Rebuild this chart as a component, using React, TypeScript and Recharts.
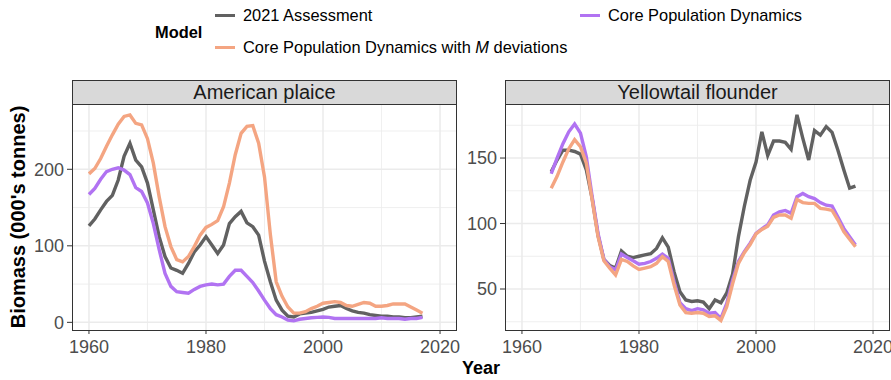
import React from "react";
import { LineChart, Line, XAxis, YAxis, ReferenceLine } from "recharts";

const FONT = '"Liberation Sans", Arial, Helvetica, sans-serif';
const COLORS = { assess: "#616161", core: "#B173F2", coreM: "#F4A582" };

// American plaice, 1960-2017
const plaiceYears = [
  1960, 1961, 1962, 1963, 1964, 1965, 1966, 1967, 1968, 1969,
  1970, 1971, 1972, 1973, 1974, 1975, 1976, 1977, 1978, 1979,
  1980, 1981, 1982, 1983, 1984, 1985, 1986, 1987, 1988, 1989,
  1990, 1991, 1992, 1993, 1994, 1995, 1996, 1997, 1998, 1999,
  2000, 2001, 2002, 2003, 2004, 2005, 2006, 2007, 2008, 2009,
  2010, 2011, 2012, 2013, 2014, 2015, 2016, 2017,
];
const plaiceAssess = [
  126, 135, 147, 158, 166, 186, 217, 234, 212, 203,
  182, 147, 112, 86, 71, 68, 64, 77, 92, 101,
  112, 101, 90, 101, 129, 138, 145, 130, 125, 114,
  80, 53, 29, 16, 8, 7, 11, 12, 13, 15,
  17, 20, 21, 22, 18, 15, 13, 12, 10, 9,
  8, 8, 7, 7, 6, 6, 7, 8,
];
const plaiceCore = [
  167, 175, 187, 197, 200, 202, 199, 193, 176, 171,
  156, 129, 95, 64, 47, 40, 39, 38, 43, 47,
  49, 50, 49, 50, 60, 68, 68, 60, 52, 41,
  29, 18, 10, 7, 3, 2, 4, 5, 6, 6.5,
  7, 6.5, 5, 5, 5, 5, 5, 5, 5, 5,
  6, 5, 5, 5, 4, 5, 5, 6.5,
];
const plaiceCoreM = [
  194, 201, 214, 230, 245, 259, 269, 271, 260, 258,
  240, 208, 164, 125, 99, 82, 79, 86, 99, 114,
  124, 128, 133, 151, 182, 219, 247, 256, 257, 234,
  190, 115, 53, 34, 20, 12, 12, 14, 18, 21,
  25, 26, 27, 26, 22, 21, 23.5, 26, 25, 21,
  21, 22, 24, 24, 24, 20, 16, 12,
];

// Yellowtail flounder, 1965-2017
const yellowYears = [
  1965, 1966, 1967, 1968, 1969,
  1970, 1971, 1972, 1973, 1974, 1975, 1976, 1977, 1978, 1979,
  1980, 1981, 1982, 1983, 1984, 1985, 1986, 1987, 1988, 1989,
  1990, 1991, 1992, 1993, 1994, 1995, 1996, 1997, 1998, 1999,
  2000, 2001, 2002, 2003, 2004, 2005, 2006, 2007, 2008, 2009,
  2010, 2011, 2012, 2013, 2014, 2015, 2016, 2017,
];
const yellowAssess = [
  139.6, 148.5, 156, 156, 155,
  153, 141, 119, 91, 72.6, 68, 66, 79, 75, 74,
  75, 76, 77, 81, 89, 82, 63, 48, 41.6, 40.5,
  41, 40, 35, 41.6, 39.5, 47, 61.5, 90, 113, 133,
  147, 170, 152, 163, 163, 162, 156.6, 183, 165, 148.5,
  171, 167.5, 174, 169.6, 156, 141, 127, 128.6,
];
const yellowCore = [
  138, 150, 161, 170, 176,
  169, 151, 120.5, 92.5, 72.6, 67, 64.5, 76.7, 74, 71.6,
  69, 69.6, 71, 73.4, 76.7, 73.4, 55.6, 39.6, 35, 33.5,
  35, 34, 31.5, 32, 27.6, 39, 57, 71, 78.5, 85,
  92.5, 96, 99, 106.5, 109, 110, 107.8, 120.5, 123, 120.5,
  119, 116, 114, 113.4, 105, 96.3, 90, 83.6,
];
const yellowCoreM = [
  127, 136, 147, 157, 164,
  158.6, 146, 118, 90, 71.6, 66, 60.7, 72.6, 71, 67.6,
  65, 66, 67, 69.6, 74.7, 71, 53, 37.8, 32, 31.5,
  32, 31.5, 29, 29.5, 26, 36.5, 54, 69.6, 77.7, 84,
  92, 95.5, 98, 104.7, 106.5, 106.5, 104, 118.4, 116, 115.4,
  115.4, 111.6, 111, 110, 102.7, 93.8, 88, 82.3,
];

const xTicks = [1960, 1980, 2000, 2020];
const xMinor = [1970, 1990, 2010];

const toRows = (years: number[], a: number[], b: number[], c: number[]) =>
  years.map((year, i) => ({ year, assess: a[i], core: b[i], coreM: c[i] }));

const tickStyle = { fontSize: 18, fill: "#4d4d4d", fontFamily: FONT };

type PanelProps = {
  rows: { year: number; assess: number; core: number; coreM: number }[];
  yDomain: [number, number];
  yTicks: number[];
  yMinor: number[];
  yWidth: number;
  width: number;
  left: number;
  right: number;
};

const Panel = ({ rows, yDomain, yTicks, yMinor, yWidth, width, left, right }: PanelProps) => (
  <div style={{ position: "absolute", left, top: 80 }}>
    <LineChart
      width={width}
      height={290}
      data={rows}
      margin={{ top: 25, right, bottom: 0, left: 0 }}
      style={{ fontFamily: FONT }}
    >
      <XAxis
        dataKey="year"
        type="number"
        domain={[1957.1, 2022.9]}
        ticks={xTicks}
        allowDataOverflow
        height={40}
        axisLine={false}
        tickSize={4}
        tickMargin={6}
        tickLine={{ stroke: "#333333" }}
        tick={tickStyle}
      />
      <YAxis
        type="number"
        domain={yDomain}
        ticks={yTicks}
        allowDataOverflow
        width={yWidth}
        axisLine={false}
        tickSize={5}
        tickMargin={3}
        tickLine={{ stroke: "#333333" }}
        tick={tickStyle}
      />
      {yMinor.map((v) => (
        <ReferenceLine key={`ym${v}`} y={v} stroke="#ebebeb" strokeWidth={0.8} />
      ))}
      {xMinor.map((v) => (
        <ReferenceLine key={`xm${v}`} x={v} stroke="#ebebeb" strokeWidth={0.8} />
      ))}
      {yTicks.map((v) => (
        <ReferenceLine key={`y${v}`} y={v} stroke="#ebebeb" strokeWidth={1.5} />
      ))}
      {xTicks.map((v) => (
        <ReferenceLine key={`x${v}`} x={v} stroke="#ebebeb" strokeWidth={1.5} />
      ))}
      <Line dataKey="assess" stroke={COLORS.assess} strokeWidth={3.4} dot={false} isAnimationActive={false} />
      <Line dataKey="core" stroke={COLORS.core} strokeWidth={3.4} dot={false} isAnimationActive={false} />
      <Line dataKey="coreM" stroke={COLORS.coreM} strokeWidth={3.4} dot={false} isAnimationActive={false} />
    </LineChart>
  </div>
);

const Strip = ({ left, label }: { left: number; label: string }) => (
  <>
    <div
      style={{
        position: "absolute", left, top: 80, width: 385, height: 25,
        boxSizing: "border-box", background: "#d9d9d9", border: "1px solid #333333",
        fontSize: 20, lineHeight: "23px", textAlign: "center", color: "#1a1a1a",
      }}
    >
      {label}
    </div>
    <div
      style={{
        position: "absolute", left, top: 104, width: 385, height: 227,
        boxSizing: "border-box", border: "1px solid #333333", pointerEvents: "none",
      }}
    />
  </>
);

const Key = ({ x, y, color, children }: { x: number; y: number; color: string; children: React.ReactNode }) => (
  <>
    <div style={{ position: "absolute", left: x, top: y - 1.5, width: 20, height: 3, background: color }} />
    <div style={{ position: "absolute", left: x + 28, top: y - 10, fontSize: 16.4, lineHeight: "20px", whiteSpace: "nowrap" }}>
      {children}
    </div>
  </>
);

export default function App() {
  const plaice = toRows(plaiceYears, plaiceAssess, plaiceCore, plaiceCoreM);
  const yellow = toRows(yellowYears, yellowAssess, yellowCore, yellowCoreM);
  return (
    <div style={{ position: "absolute", left: 0, top: 0, width: 891, height: 380, overflow: "hidden", background: "#fff", fontFamily: FONT, color: "#000" }}>
      <div style={{ position: "absolute", left: 155, top: 22, fontSize: 16.4, fontWeight: "bold", lineHeight: "20px" }}>Model</div>
      <Key x={215} y={15} color={COLORS.assess}>2021 Assessment</Key>
      <Key x={215} y={47} color={COLORS.coreM}>
        Core Population Dynamics with <i>M</i> deviations
      </Key>
      <Key x={580} y={15} color={COLORS.core}>Core Population Dynamics</Key>

      <Panel rows={plaice} yDomain={[-10, 284]} yTicks={[0, 100, 200]} yMinor={[50, 150, 250]} yWidth={72} width={472} right={15} left={0} />
      <Panel rows={yellow} yDomain={[18.7, 190.5]} yTicks={[50, 100, 150]} yMinor={[25, 75, 125, 175]} yWidth={45} width={431} right={1} left={460} />

      <Strip left={72} label="American plaice" />
      <Strip left={505} label="Yellowtail flounder" />

      <div
        style={{
          position: "absolute", left: 18, top: 217, transform: "translate(-50%, -50%) rotate(-90deg)",
          fontSize: 20, fontWeight: "bold", whiteSpace: "nowrap",
        }}
      >
        Biomass (000's tonnes)
      </div>
      <div style={{ position: "absolute", left: 481, top: 368, transform: "translate(-50%, -50%)", fontSize: 18, fontWeight: "bold" }}>
        Year
      </div>
    </div>
  );
}
